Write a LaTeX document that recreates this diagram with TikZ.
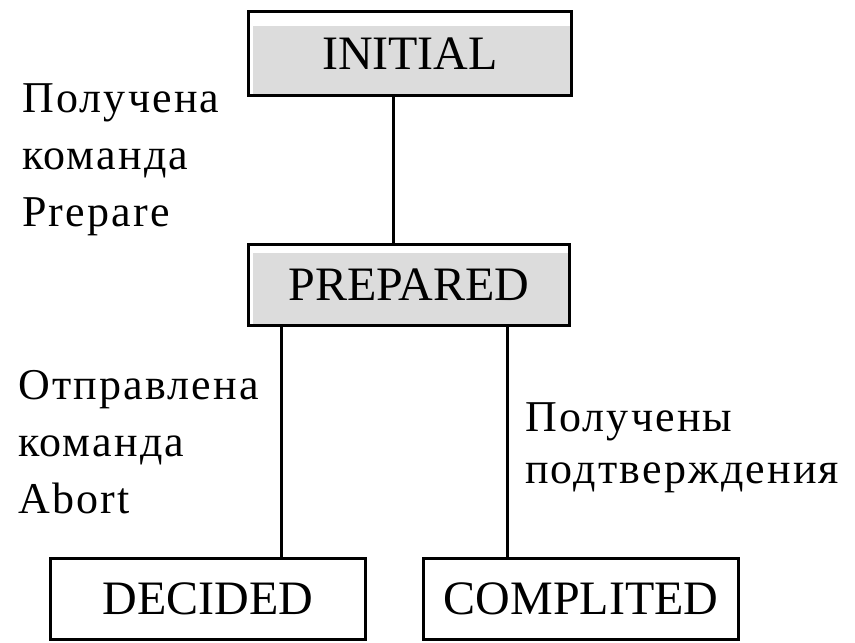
\documentclass[tikz,border=0pt]{standalone}
\usepackage{fontspec}
\setmainfont{Liberation Serif}
\newfontfamily\spacedfont[LetterSpace=5]{Liberation Serif}
\definecolor{boxgray}{RGB}{220,220,220}
\tikzset{
	statebox/.style={draw, line width=3pt, inner sep=0pt, minimum width=315pt, minimum height=81pt, font=\fontsize{48}{58}\selectfont},
	grayfill/.style={path picture={\fill [boxgray] ([xshift=4pt]path picture bounding box.south west) rectangle ([yshift=-#1]path picture bounding box.north east);}},
	note/.style={anchor=north west, inner sep=0pt, align=left, font=\spacedfont\fontsize{44}{#1}\selectfont},
	note/.default=57pt,
	link/.style={line width=3pt}
}

\begin{document}
\begin{tikzpicture}[x=1pt, y=-1pt]
	\useasboundingbox (0,0) rectangle (855,643);
	% states
	\node [statebox, grayfill=14.5pt, minimum width=323pt, minimum height=84pt] (initial) at (410,53.5) {INITIAL};
	\node [statebox, grayfill=8.5pt, minimum width=321pt] (prepared) at (409,285) {PREPARED};
	\node [statebox] (decided) at (208,599) {DECIDED};
	\node [statebox] (complited) at (581,599) {COMPLITED};

	% transitions
	\draw [link] ([xshift=-17pt]initial.south) -- ([xshift=-16pt]prepared.north);
	\draw [link] ([xshift=73pt]decided.north) -- ([xshift=73pt]decided.north |- prepared.south);
	\draw [link] ([xshift=-74pt]complited.north) -- ([xshift=-74pt]complited.north |- prepared.south);

	\node [note] (prepcmd) at (22,83) {Получена\\команда\\Prepare};
	\node [note] (abortcmd) at (18,370) {Отправлена\\команда\\Abort};
	\node [note=52pt] (acks) at (525,402) {Получены\\подтверждения};
\end{tikzpicture}
\end{document}
